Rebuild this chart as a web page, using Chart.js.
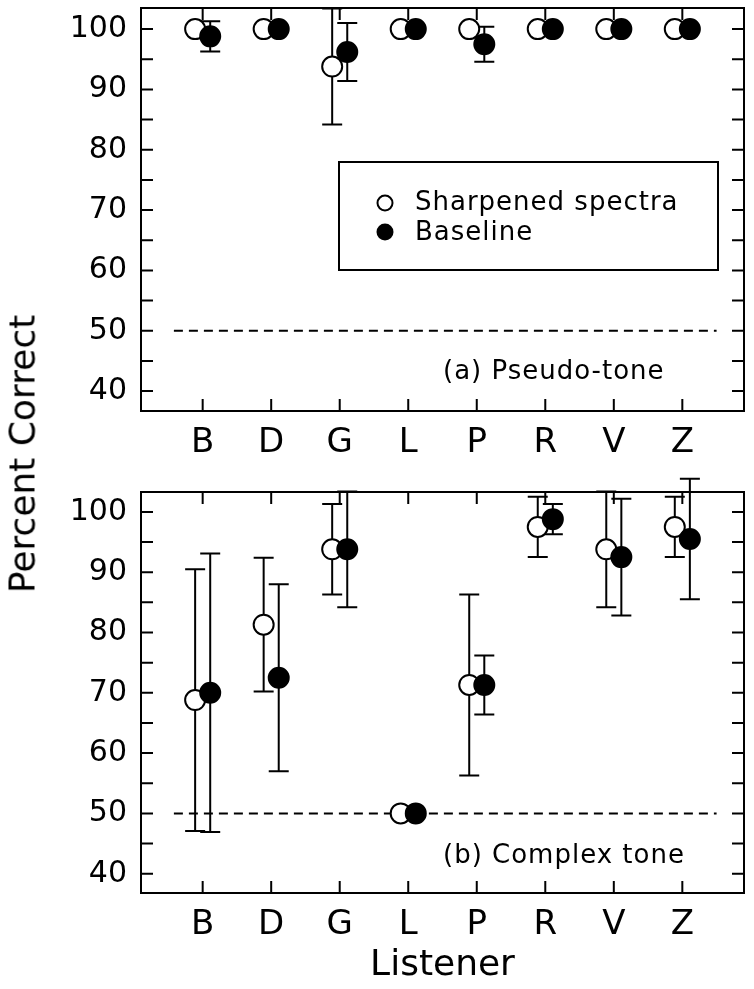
<!DOCTYPE html>
<html>
<head>
<meta charset="utf-8">
<script src="https://cdn.jsdelivr.net/npm/chart.js@4.4.0/dist/chart.umd.min.js"></script>
<style>
    html, body { margin: 0; padding: 0; background: #fff; }
    #page { position: relative; width: 754px; height: 989px; overflow: hidden; }
    #panelA { position: absolute; left: 0; top: 0; width: 754px; height: 470px; }
    #panelB { position: absolute; left: 0; top: 470px; width: 754px; height: 519px; }
    #ytitle {
        position: absolute; left: 22px; top: 454px;
        transform: translate(-50%, -50%) rotate(-90deg);
        font: 36px 'DejaVu Sans'; color: #000; white-space: nowrap;
    }
</style>
</head>
<body>
<div id="page">
    <canvas id="panelA" width="754" height="470"></canvas>
    <canvas id="panelB" width="754" height="519"></canvas>
    <div id="ytitle">Percent Correct</div>
</div>
<script>
const listeners = ['B', 'D', 'G', 'L', 'P', 'R', 'V', 'Z'];
const yTicks = [40, 45, 50, 55, 60, 65, 70, 75, 80, 85, 90, 95, 100];
const chanceLevel = 50;
const chanceSpan = [-0.42, 7.5];

// (a) Pseudo-tone
const pseudoSharp = [100, 100, 93.8, 100, 100, 100, 100, 100];
const pseudoSharpErr = [0, 0, 9.6, 0, 0, 0, 0, 0];
const pseudoBase = [98.8, 100, 96.2, 100, 97.5, 100, 100, 100];
const pseudoBaseErr = [2.5, 0, 4.8, 0, 2.9, 0, 0, 0];

// (b) Complex tone
const complexSharp = [68.8, 81.3, 93.8, 50, 71.3, 97.5, 93.8, 97.5];
const complexSharpErr = [21.7, 11.1, 7.5, 0, 15.0, 5.0, 9.6, 5.0];
const complexBase = [70.0, 72.5, 93.8, 50, 71.3, 98.8, 92.5, 95.5];
const complexBaseErr = [23.1, 15.5, 9.6, 0, 4.9, 2.5, 9.7, 10.0];

const FONT = "'DejaVu Sans'";
const OFFSET = 0.11;

// error bars under the circles
const errorBars = {
    id: 'errorBars',
    beforeDatasetsDraw(chart) {
        const ctx = chart.ctx;
        const xs = chart.scales.x, ys = chart.scales.y;
        ctx.save();
        ctx.strokeStyle = '#000';
        ctx.lineWidth = 2;
        chart.data.datasets.forEach(ds => {
            if (!ds.err) return;
            ds.data.forEach((p, i) => {
                const e = ds.err[i];
                if (!e) return;
                const px = xs.getPixelForValue(p.x);
                const lo = ys.getPixelForValue(p.y - e);
                const hi = ys.getPixelForValue(p.y + e);
                ctx.beginPath();
                ctx.moveTo(px, lo); ctx.lineTo(px, hi);
                ctx.moveTo(px - 10, lo); ctx.lineTo(px + 10, lo);
                ctx.moveTo(px - 10, hi); ctx.lineTo(px + 10, hi);
                ctx.stroke();
            });
        });
        ctx.restore();
    }
};

// frame, inward ticks, legend box and panel labels
const frame = {
    id: 'frame',
    afterDraw(chart, args, opts) {
        const ctx = chart.ctx;
        const a = chart.chartArea;
        const xs = chart.scales.x, ys = chart.scales.y;
        ctx.save();
        ctx.strokeStyle = '#000';
        ctx.lineWidth = 2;
        ctx.strokeRect(a.left, a.top, a.right - a.left, a.bottom - a.top);
        ctx.beginPath();
        yTicks.forEach(v => {
            const py = ys.getPixelForValue(v);
            ctx.moveTo(a.left, py); ctx.lineTo(a.left + 12, py);
            ctx.moveTo(a.right, py); ctx.lineTo(a.right - 12, py);
        });
        listeners.forEach((l, i) => {
            const px = xs.getPixelForValue(i);
            ctx.moveTo(px, a.bottom); ctx.lineTo(px, a.bottom - 12);
            ctx.moveTo(px, a.top); ctx.lineTo(px, a.top + 12);
        });
        ctx.stroke();

        ctx.fillStyle = '#000';
        ctx.textBaseline = 'middle';
        ctx.letterSpacing = '1px';
        ctx.font = '26px ' + FONT;
        ctx.fillText(opts.tag, a.left + 302, a.top + 364);

        if (opts.legend) {
            ctx.strokeRect(a.left + 198, a.top + 154, 379, 108);
            ctx.beginPath();
            ctx.arc(a.left + 244, a.top + 195, 7.5, 0, Math.PI * 2);
            ctx.stroke();
            ctx.beginPath();
            ctx.arc(a.left + 244, a.top + 224, 8.5, 0, Math.PI * 2);
            ctx.fill();
            ctx.fillText('Sharpened spectra', a.left + 274, a.top + 195);
            ctx.fillText('Baseline', a.left + 274, a.top + 225);
        }
        if (opts.xTitle) {
            ctx.letterSpacing = '0px';
            ctx.font = '36px ' + FONT;
            ctx.textAlign = 'center';
            ctx.fillText(opts.xTitle, (a.left + a.right) / 2, a.bottom + 73);
        }
        ctx.restore();
    }
};

function makePanel(id, sharp, sharpErr, base, baseErr, yMin, yMax, padTop, xHeight, extra) {
    const pointStyle = {
        pointRadius: 10, pointBorderWidth: 2, pointBorderColor: '#000',
        showLine: false, clip: false
    };
    return new Chart(document.getElementById(id), {
        type: 'scatter',
        data: {
            datasets: [
                Object.assign({
                    label: 'Baseline',
                    data: base.map((v, i) => ({ x: i + OFFSET, y: v })),
                    err: baseErr,
                    pointBackgroundColor: '#000'
                }, pointStyle),
                Object.assign({
                    label: 'Sharpened spectra',
                    data: sharp.map((v, i) => ({ x: i - OFFSET, y: v })),
                    err: sharpErr,
                    pointBackgroundColor: '#fff'
                }, pointStyle),
                {
                    label: 'chance',
                    data: chanceSpan.map(x => ({ x: x, y: chanceLevel })),
                    showLine: true,
                    borderColor: '#000',
                    borderWidth: 2,
                    borderDash: [9, 6],
                    pointRadius: 0
                }
            ]
        },
        options: {
            responsive: false,
            animation: false,
            events: [],
            layout: { autoPadding: false, padding: { top: padTop, right: 10, left: 0, bottom: 0 } },
            plugins: {
                legend: { display: false },
                tooltip: { enabled: false },
                frame: extra
            },
            scales: {
                x: {
                    type: 'linear',
                    min: -0.9,
                    max: 7.9,
                    afterBuildTicks: s => { s.ticks = listeners.map((l, i) => ({ value: i })); },
                    afterFit: s => {
                        s.height = xHeight;
                        s.paddingLeft = 0;
                        s.paddingRight = 0;
                    },
                    grid: { display: false, drawTicks: false },
                    border: { display: false },
                    ticks: {
                        autoSkip: false,
                        maxRotation: 0,
                        padding: 12,
                        color: '#000',
                        font: { family: 'DejaVu Sans', size: 34 },
                        callback: (v, i) => listeners[i]
                    }
                },
                y: {
                    min: yMin,
                    max: yMax,
                    afterBuildTicks: s => { s.ticks = yTicks.map(v => ({ value: v })); },
                    afterFit: s => {
                        s.width = 141;
                        s.paddingTop = 0;
                        s.paddingBottom = 0;
                    },
                    grid: { display: false, drawTicks: false },
                    border: { display: false },
                    ticks: {
                        padding: 14,
                        color: '#000',
                        font: { family: 'DejaVu Sans', size: 30 },
                        callback: v => (v % 10 === 0 ? String(v) : '')
                    }
                }
            }
        },
        plugins: [errorBars, frame]
    });
}

makePanel('panelA', pseudoSharp, pseudoSharpErr, pseudoBase, pseudoBaseErr,
    36.7, 103.5, 8, 59, { tag: '(a) Pseudo-tone', legend: true });
makePanel('panelB', complexSharp, complexSharpErr, complexBase, complexBaseErr,
    36.8, 103.3, 22, 96, { tag: '(b) Complex tone', xTitle: 'Listener' });
</script>
</body>
</html>
